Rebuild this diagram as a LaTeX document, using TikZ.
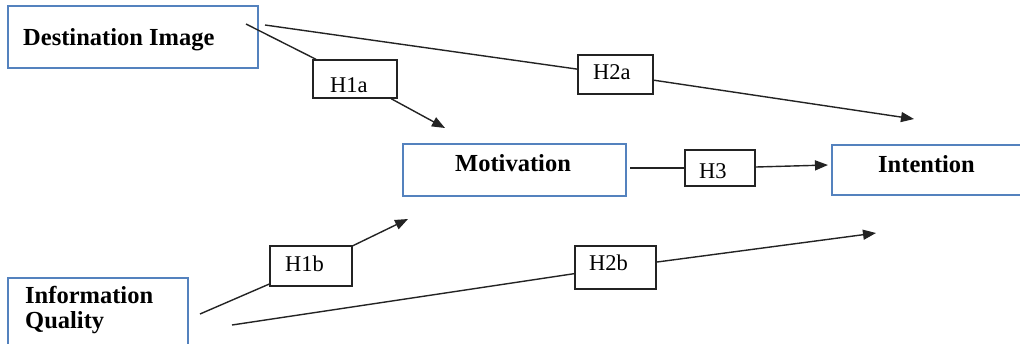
\documentclass[tikz,border=0pt]{standalone}
\usepackage{fontspec}
\setmainfont{Liberation Serif}
\usetikzlibrary{arrows.meta}
\definecolor{boxblue}{RGB}{84,130,190}
\definecolor{lab}{RGB}{35,35,35}
\begin{document}
\begin{tikzpicture}[x=1pt,y=-1pt,
  mainbox/.style={draw=boxblue,line width=1.3pt,fill=none,inner sep=0pt},
  hbox/.style={draw=lab,line width=1.4pt,fill=white,inner sep=0pt},
  maintext/.style={anchor=base west,inner sep=0pt,font=\fontsize{24.5}{25}\selectfont\bfseries},
  htext/.style={anchor=base west,inner sep=0pt,font=\fontsize{22.5}{24}\selectfont},
  conn/.style={draw=lab,line width=1.4pt},
  arr/.style={conn,-{Triangle[length=13pt,width=10pt]}}]
\useasboundingbox (0,0) rectangle (1020,343);
\clip (0,0) rectangle (1020,343);
\fill[white] (0,0) rectangle (1020,343);
% main boxes
\node[mainbox,minimum width=250pt,minimum height=62pt] (dest) at (133,37) {};
\node[mainbox,minimum width=223pt,minimum height=52pt] (mot) at (514.5,170) {};
\node[mainbox,minimum width=200pt,minimum height=50pt] (intn) at (932,170) {};
\node[mainbox,minimum width=180pt,minimum height=80pt] (info) at (98,318) {};
\node[maintext] (destT) at (23,45) {Destination Image};
\node[maintext] (motT) at (455,171) {Motivation};
\node[maintext] (intT) at (878,172) {Intention};
\node[maintext] (infoT1) at (25,303) {Information};
\node[maintext] (infoT2) at (25,328) {Quality};
% coordinates
\coordinate (s1a) at (246,24);
\coordinate (t1a) at (445,128);
\coordinate (s2a) at (265,25);
\coordinate (t2a) at (914,119);
\coordinate (s3) at (630,168);
\coordinate (t3) at (828,165);
\coordinate (s1b) at (200,314);
\coordinate (t1b) at (408,219);
\coordinate (s2b) at (232,325);
\coordinate (t2b) at (876,233);
% hypothesis boxes
\node[hbox,minimum width=84pt,minimum height=38pt] (h1a) at (355,79) {};
\node[hbox,minimum width=75pt,minimum height=39pt] (h2a) at (615.5,74.5) {};
\node[hbox,minimum width=70pt,minimum height=36pt] (h3) at (720,168) {};
\node[hbox,minimum width=82pt,minimum height=40pt] (h1b) at (311,266) {};
\node[hbox,minimum width=81pt,minimum height=43pt] (h2b) at (615.5,267.5) {};
% connectors
\draw[conn] (s1a) -- (h1a);
\draw[arr] (h1a) -- (t1a);
\draw[conn] (s2a) -- (h2a);
\draw[arr] (h2a) -- (t2a);
\draw[conn] (s3) -- (h3);
\draw[arr] (h3) -- (t3);
\draw[conn] (s1b) -- (h1b);
\draw[arr] (h1b) -- (t1b);
\draw[conn] (s2b) -- (h2b);
\draw[arr] (h2b) -- (t2b);
% hypothesis labels
\node[htext] (h1aT) at (330,92) {H1a};
\node[htext] (h2aT) at (593,79) {H2a};
\node[htext] (h3T) at (699,178) {H3};
\node[htext] (h1bT) at (285,271) {H1b};
\node[htext] (h2bT) at (589,270) {H2b};
\end{tikzpicture}
\end{document}
